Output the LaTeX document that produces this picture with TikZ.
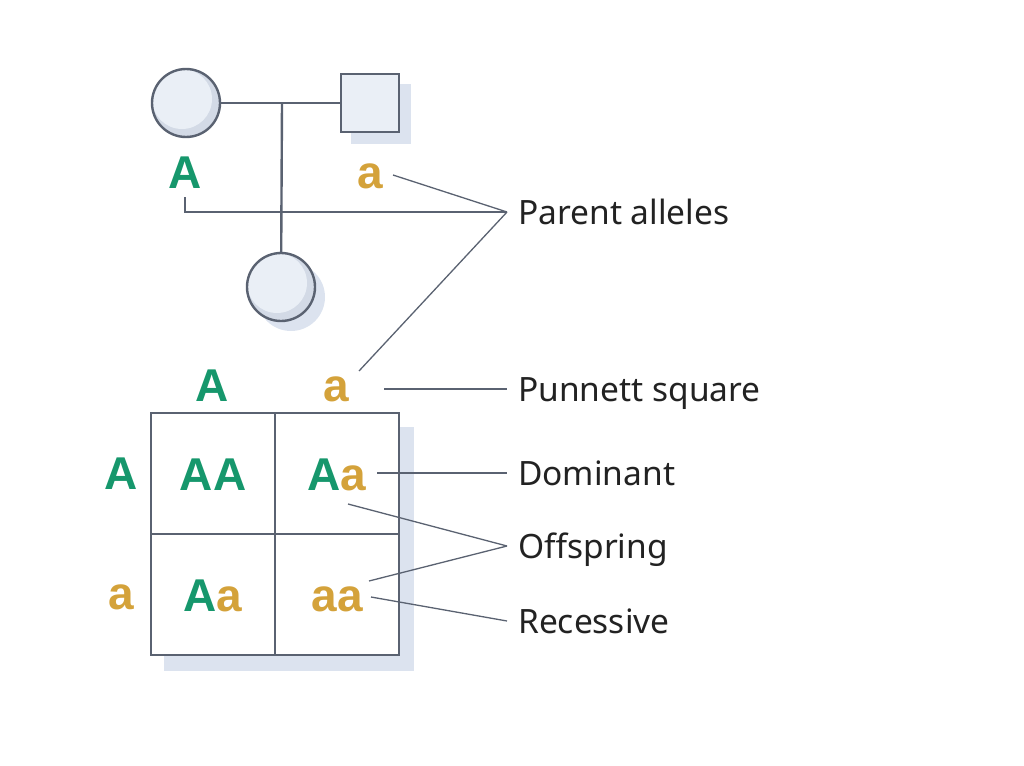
\documentclass[tikz,border=0pt]{standalone}
\usepackage{fontspec}
\setmainfont{Noto Sans}
\newfontfamily\alfont{Liberation Sans}
\usetikzlibrary{backgrounds}
\definecolor{grn}{HTML}{16976C}
\definecolor{gld}{HTML}{D4A23A}
\definecolor{ink}{HTML}{5A6271}
\definecolor{pale}{HTML}{EAEFF6}
\definecolor{cres}{HTML}{D3DAE6}
\definecolor{shd}{HTML}{DCE3EF}
\definecolor{txt}{HTML}{222222}
\newcommand{\Ag}{\textcolor{grn}{A}}
\newcommand{\ag}{\textcolor{gld}{a}}

\begin{document}
\begin{tikzpicture}[x=1pt,y=-1pt,
 ln/.style={draw=ink,line width=2.4pt},
 cn/.style={draw=ink,line width=1.3pt},
 indiv/.style={ln,circle,fill=pale,minimum size=68pt,inner sep=0pt,
  path picture={\fill[cres] (path picture bounding box.center) circle (34);
   \fill[pale] ([shift={(-4,-4)}]path picture bounding box.center) circle (30);}},
 male/.style={ln,fill=pale,minimum size=58pt,inner sep=0pt},
 al/.style={font=\alfont\bfseries\fontsize{46}{50}\selectfont,inner sep=0pt,text height=33pt,text depth=0pt},
 cell/.style={ln,fill=white,minimum width=124pt,minimum height=121pt,inner sep=0pt,
  font=\alfont\bfseries\fontsize{46}{50}\selectfont,text height=33pt,text depth=0pt},
 lbl/.style={anchor=west,inner xsep=11pt,inner ysep=0pt,text height=24pt,text depth=0pt,
  font=\fontsize{33.5}{36}\selectfont,text=txt}]
\useasboundingbox (0,0) rectangle (1024,765);
% pedigree
\node[indiv] (fem) at (186,103) {};
\node[male] (mal) at (370,103) {};
\node[indiv] (kid) at (281,287) {};
\coordinate (mate) at (282,103);
\draw[ln] (fem) -- (mal); \draw[ln] (mate) -- (kid);
\node[al,text=grn] (pA) at (185,171.5) {A};
\node[al,text=gld] (pa) at (370,171.5) {a};
% punnett square
\node[cell] (c11) at (213,473.5) {\Ag\Ag};
\node[cell] (c12) at (337,473.5) {\Ag\ag};
\node[cell] (c21) at (213,594.5) {\Ag\ag};
\node[cell] (c22) at (337,594.5) {\ag\ag};
\node[al,text=grn] (colA) at (212,384.5) {A};
\node[al,text=gld] (cola) at (336,384.5) {a};
\node[al,text=grn] (rowA) at (121,472.5) {A};
\node[al,text=gld] (rowa) at (121,593) {a};
% shadows
\begin{scope}[on background layer]
\fill[shd] ([shift={(10,10)}]kid.center) circle (34);
\fill[shd] ([shift={(11,11)}]mal.north west) rectangle ([shift={(11,11)}]mal.south east);
\fill[shd] ([shift={(14,15)}]c11.north west) rectangle ([shift={(14,15)}]c22.south east);
\end{scope}
% labels
\node[lbl] (par) at (507,212) {Parent alleles};
\node[lbl] (pun) at (507,389) {Punnett square};
\node[lbl] (dom) at (507,473) {Dominant};
\node[lbl] (off) at (507,546) {Offspring};
\node[lbl] (rec) at (507,621) {Recessive};
\coordinate (ta) at (393,175); \coordinate (tc) at (359,371);
\coordinate (tp) at (384,389); \coordinate (td) at (377,473);
\coordinate (to1) at (348,504); \coordinate (to2) at (369,581);
\coordinate (tr) at (371,597);
\draw[cn] ([shift={(0,9)}]pA.south) |- (par.west);
\draw[cn] (ta) -- (par.west); \draw[cn] (tc) -- (par.west);
\draw[cn] (tp) -- (pun.west); \draw[cn] (td) -- (dom.west);
\draw[cn] (to1) -- (off.west); \draw[cn] (to2) -- (off.west);
\draw[cn] (tr) -- (rec.west);
\end{tikzpicture}
\end{document}
